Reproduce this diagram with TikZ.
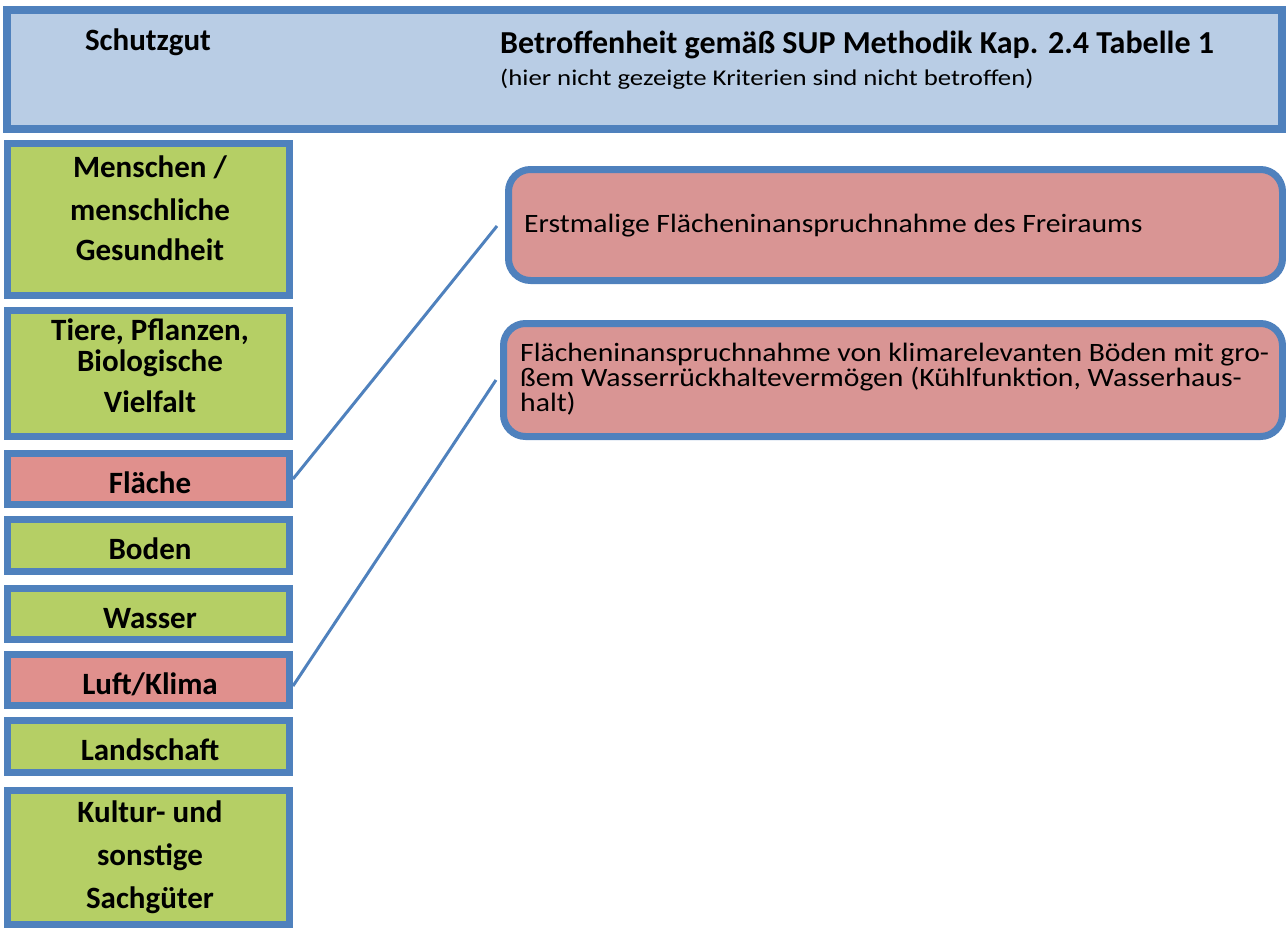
\documentclass[tikz,border=0pt]{standalone}
\usepackage{fontspec}
\setmainfont{Carlito}
\newfontfamily\subfont[FakeStretch=1.19]{Carlito}
\newfontfamily\critfont[FakeStretch=1.12]{Carlito}
\definecolor{bordblue}{HTML}{4F81BD}
\definecolor{headfill}{HTML}{B9CDE5}
\definecolor{greenfill}{HTML}{B5CF65}
\definecolor{pinkfill}{HTML}{E0908D}
\definecolor{rosefill}{HTML}{D99594}
\tikzset{
  headbox/.style={draw=bordblue, line width=8pt, fill=headfill, minimum width=1275pt, minimum height=119pt, inner sep=0pt},
  leftbox/.style={draw=bordblue, line width=7pt, minimum width=282pt, inner sep=0pt},
  goodbox/.style={leftbox, fill=greenfill},
  badbox/.style={leftbox, fill=pinkfill},
  critbox/.style={draw=bordblue, line width=7pt, fill=rosefill, rounded corners=22pt, inner sep=0pt},
  lbl/.style={font=\fontsize{31}{31}\selectfont\bfseries, anchor=base, inner sep=0pt},
  htxt/.style={font=\fontsize{32}{32}\selectfont\bfseries, anchor=base west, inner sep=0pt},
  stxt/.style={font=\subfont\fontsize{22.5}{22.5}\selectfont, anchor=base west, inner sep=0pt},
  ctxt/.style={font=\critfont\fontsize{26.5}{22.5}\selectfont, anchor=base west, inner sep=0pt, align=left},
  link/.style={draw=bordblue, line width=3pt}
}
\begin{document}
\begin{tikzpicture}[x=1pt, y=-1pt]
\useasboundingbox (0,0) rectangle (1286,929);
% header
\node[headbox] (head) at (644.5,69.5) {};
\node[lbl] (hs) at (148,50) {Schutzgut};
\node[htxt] (hb) at (500,53) {Betroffenheit gemäß SUP Methodik Kap. 2.4 Tabelle 1};
\node[stxt] (hn) at (500,85) {(hier nicht gezeigte Kriterien sind nicht betroffen)};
% left column
\node[goodbox, minimum height=152pt] (mensch) at (148.5,219.5) {};
\node[lbl] (m1) at (150,177) {Menschen /};
\node[lbl] (m2) at (150,220) {menschliche};
\node[lbl] (m3) at (150,260) {Gesundheit};
\node[goodbox, minimum height=126pt] (tiere) at (148.5,373.5) {};
\node[lbl] (t1) at (150,340) {Tiere, Pflanzen,};
\node[lbl] (t2) at (150,371) {Biologische};
\node[lbl] (t3) at (150,412) {Vielfalt};
\node[badbox, minimum height=51pt] (flaeche) at (148.5,479) {};
\node[lbl] (f1) at (150,493) {Fläche};
\node[goodbox, minimum height=52pt] (boden) at (148.5,545.5) {};
\node[lbl] (b1) at (150,559) {Boden};
\node[goodbox, minimum height=51pt] (wasser) at (148.5,614) {};
\node[lbl] (w1) at (150,628) {Wasser};
\node[badbox, minimum height=51pt] (luft) at (148.5,680) {};
\node[lbl] (l1) at (150,694) {Luft/Klima};
\node[goodbox, minimum height=52pt] (land) at (148.5,746.5) {};
\node[lbl] (la1) at (150,760) {Landschaft};
\node[goodbox, minimum height=134pt] (kultur) at (148.5,857.5) {};
\node[lbl] (k1) at (150,822) {Kultur- und};
\node[lbl] (k2) at (150,865) {sonstige};
\node[lbl] (k3) at (150,908) {Sachgüter};
% criteria
\node[critbox, minimum width=774pt, minimum height=111pt] (c1) at (895.5,225) {};
\node[ctxt] (c1t) at (524,232) {Erstmalige Flächeninanspruchnahme des Freiraums};
\node[critbox, minimum width=779pt, minimum height=113pt] (c2) at (893,380) {};
\node[ctxt, anchor=north west] (c2t) at (520,343) {Flächeninanspruchnahme von klimarelevanten Böden mit gro-\\ßem Wasserrückhaltevermögen (Kühlfunktion, Wasserhaus-\\halt)};
% connectors
\coordinate (e1) at (497,226);
\coordinate (e2) at (496,380);
\draw[link] (flaeche.east) -- (e1);
\draw[link] ([yshift=-6pt]luft.east) -- (e2);
\end{tikzpicture}
\end{document}
